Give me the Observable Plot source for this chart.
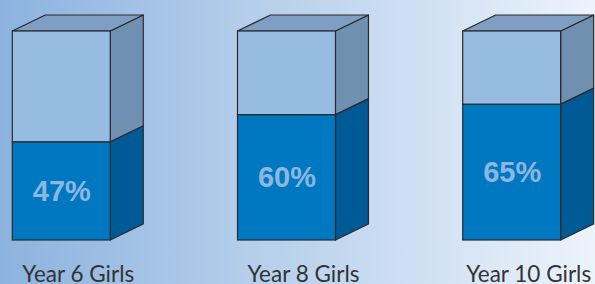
<!DOCTYPE html>
<html>
<head>
<meta charset="utf-8">
<script src="https://cdn.jsdelivr.net/npm/d3@7"></script>
<script src="https://cdn.jsdelivr.net/npm/@observablehq/plot@0.6"></script>
<style>
  html, body { margin: 0; padding: 0; }
  #chart { width: 595px; height: 284px; overflow: hidden; }
</style>
</head>
<body>
<div id="chart"></div>
<script>
const categories = ["Year 6 Girls", "Year 8 Girls", "Year 10 Girls"];
const values = [47, 60, 65];
const valueLabels = ["47%", "60%", "65%"];

// layout constants (x in category units, y in percent units)
const W = 0.435;   // front face width
const D = 0.1465;  // depth offset in x
const DY = 7.66;   // depth offset in y

const sideBottom = [], sideTop = [], topFace = [], front = [];
categories.forEach((c, i) => {
  const v = values[i];
  sideBottom.push({x: i + W, y1: 0, y2: v, z: c}, {x: i + W + D, y1: DY, y2: v + DY, z: c});
  sideTop.push({x: i + W, y1: v, y2: 100, z: c}, {x: i + W + D, y1: v + DY, y2: 100 + DY, z: c});
  topFace.push({y: 100, x1: i, x2: i + W, z: c}, {y: 100 + DY, x1: i + D, x2: i + W + D, z: c});
  front.push({i, c, v, label: valueLabels[i]});
});

const edge = "#2a2a2a";
const chart = Plot.plot({
  width: 595,
  height: 284,
  margin: 0,
  style: {background: "linear-gradient(to right, #8cb3df, #ecf3fb)", overflow: "visible"},
  x: {domain: [0, 3], range: [12.3, 12.3 + 3 * 225.2], axis: null},
  y: {domain: [0, 100], range: [240, 31], axis: null},
  marks: [
    Plot.areaY(sideBottom, {x: "x", y1: "y1", y2: "y2", z: "z", fill: "#005a96", stroke: edge, strokeWidth: 1.2}),
    Plot.areaY(sideTop, {x: "x", y1: "y1", y2: "y2", z: "z", fill: "#7090b1", stroke: edge, strokeWidth: 1.2}),
    Plot.areaX(topFace, {y: "y", x1: "x1", x2: "x2", z: "z", fill: "#7e9fc3", stroke: edge, strokeWidth: 1.2}),
    Plot.rect(front, {x1: d => d.i, x2: d => d.i + W, y1: 0, y2: d => d.v, fill: "#0077c1", stroke: edge, strokeWidth: 1.2}),
    Plot.rect(front, {x1: d => d.i, x2: d => d.i + W, y1: d => d.v, y2: 100, fill: "#97bce2", stroke: edge, strokeWidth: 1.2}),
    Plot.text(front, {x: d => d.i + W / 2, y: d => d.v / 2, text: "label", fill: "#8db7e1", fontSize: 29, fontWeight: "bold", fontFamily: "Liberation Sans, Arial, sans-serif"}),
    Plot.text(front, {x: d => d.i + (W + D) / 2, y: -16.2, text: "c", fill: "#333333", fontSize: 22.5, fontFamily: "Lato, sans-serif"})
  ]
});
document.getElementById("chart").appendChild(chart);
</script>
</body>
</html>
